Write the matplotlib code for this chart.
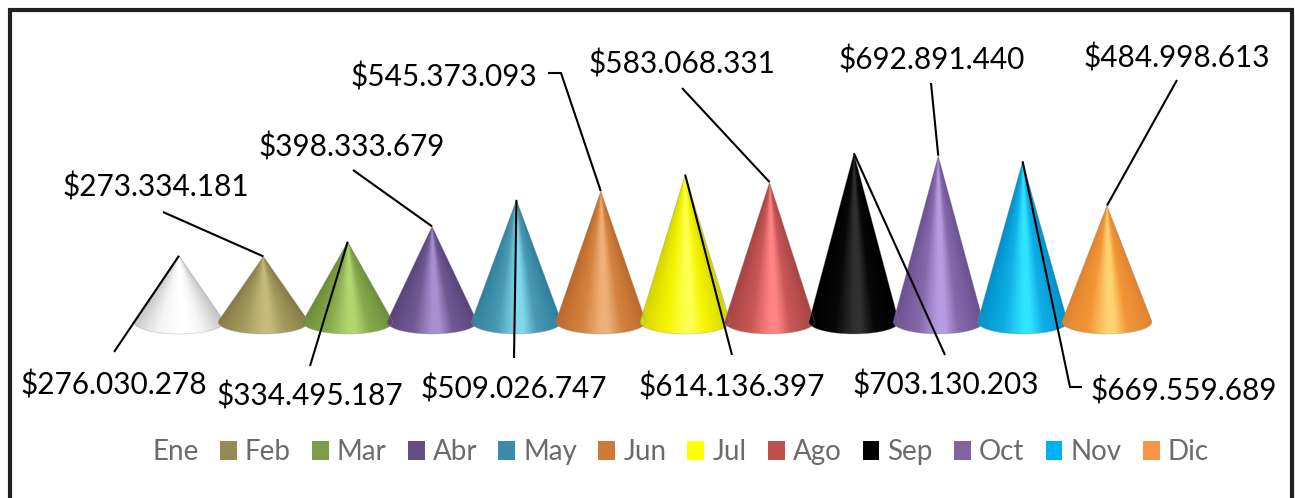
import numpy as np
import matplotlib
matplotlib.use('Agg')
import matplotlib.pyplot as plt
from matplotlib.colors import LinearSegmentedColormap
from matplotlib.lines import Line2D
from matplotlib.patches import PathPatch, Patch
from matplotlib.path import Path

plt.rcParams['font.family'] = ['Lato', 'DejaVu Sans']

months = ['Ene', 'Feb', 'Mar', 'Abr', 'May', 'Jun', 'Jul', 'Ago', 'Sep', 'Oct', 'Nov', 'Dic']
sales = [276030278, 273334181, 334495187, 398333679, 509026747, 545373093,
         614136397, 583068331, 703130203, 692891440, 669559689, 484998613]
legend_colors = ['#ffffff', '#948a54', '#7f9b48', '#664f86', '#3a8ca8', '#cc7a35',
                 '#ffff00', '#c0504d', '#000000', '#8064a2', '#00b0f0', '#f79646']
edge_colors = ['#c4c4c4', '#857b46', '#6d8d3a', '#58437a', '#30809c', '#bb692a',
               '#d4d400', '#a84444', '#000000', '#6c5192', '#0091c8', '#df8330']
mid_colors = ['#f4f4f4', '#a39a5e', '#88a94c', '#6f5a94', '#4a9ab4', '#d4833f',
              '#f4f400', '#c95757', '#080808', '#8569ab', '#10aee6', '#f39638']
light_colors = ['#ffffff', '#c4ba7c', '#b2d66e', '#a88fd0', '#80d8ec', '#eeb078',
                '#ffff50', '#ff8484', '#303030', '#b79ce2', '#30e4ff', '#ffd272']

# (label centre) and (where the leader line stops) in picture pixels
label_pos = [(114, 382), (156, 184), (310, 393), (352, 144), (514, 386), (444, 74),
             (732, 384), (682, 61), (946, 382), (932, 57), (1184, 388), (1177, 55)]
leader_end = [(114, 352), (163, 212), (310, 366), (353, 170), (514, 358), (561, 73),
              (732, 355), (682, 88), (945, 355), (931, 83), (1070, 387), (1177, 80)]
leader_knee = {5: (548, 73), 10: (1082, 387)}

W, H = 1295, 498
fig = plt.figure(figsize=(W / 100, H / 100), dpi=100)
ax = fig.add_axes([0, 0, 1, 1])

# one category = 84.36 px, first cone at x=179; 1 million = 0.24 px, floor at y=322
xlim = (-179 / 84.36, (W - 179) / 84.36)
ylim = (-(H - 322) / 0.24e-6, 322 / 0.24e-6)
ax.axis('off')

half_w = 0.533
base_h = 12 / 0.24e-6


def px(p):
    return (p[0], H - p[1])


for i, value in enumerate(sales):
    # outline: apex, tangent points on the base ellipse, lower arc
    ang0 = np.arcsin(base_h / value)
    ang = np.linspace(-ang0, np.pi + ang0, 60)
    arc_x = i + half_w * np.cos(ang)
    arc_y = -base_h * np.sin(ang)
    verts = [(i, value)] + list(zip(arc_x, arc_y)) + [(i, value)]
    cone = Path(verts, closed=True)

    cmap = LinearSegmentedColormap.from_list(
        'c%d' % i,
        [(0, edge_colors[i]), (0.3, mid_colors[i]), (0.5, light_colors[i]),
         (0.58, light_colors[i]), (0.72, mid_colors[i]), (1, edge_colors[i])])
    ys = np.linspace(-base_h, value, 260)
    xs = np.linspace(-half_w, half_w, 180)
    gx, gy = np.meshgrid(xs, ys)
    # shading follows the cone: same tone along a line to the apex
    shade = gx / (half_w * np.clip(1 - gy / value, 0.005, None))
    shade = np.clip((shade + 1) / 2, 0, 1)
    im = ax.imshow(shade, cmap=cmap, vmin=0, vmax=1, aspect='auto', origin='lower',
                   extent=[i - half_w, i + half_w, -base_h, value], zorder=2 + i * 0.01,
                   interpolation='bilinear')
    outline = PathPatch(cone, facecolor='none', edgecolor='#909090', lw=0.5, alpha=0.45,
                        zorder=2.1 + i * 0.01)
    ax.add_patch(outline)
    im.set_clip_path(outline)

ax.set_xlim(xlim)
ax.set_ylim(ylim)

# data labels with leader lines
for i, value in enumerate(sales):
    label = '$' + format(value, ',').replace(',', '.')
    lx, ly = label_pos[i]
    ax.text(*px((lx, ly + 3)), label, transform=None, fontsize=21.4, color='black',
            ha='center', va='center', zorder=5)
    tip = ax.transData.transform((i, value))
    pts = [tuple(tip), px(leader_end[i])]
    if i in leader_knee:
        pts.append(px(leader_knee[i]))
    xx, yy = zip(*pts)
    ax.plot(xx, yy, color='black', lw=1.5, transform=None, zorder=4, solid_capstyle='butt')

handles = [Patch(facecolor=c, edgecolor='none') for c in legend_colors]
leg = fig.legend(handles, months, ncol=12, loc='center', bbox_to_anchor=(668 / W, 1 - 452 / H),
                 frameon=False, fontsize=20, labelcolor='#6b6b6b', handlelength=0.61,
                 handleheight=0.65, handletextpad=0.29, columnspacing=0.76,
                 borderpad=0, borderaxespad=0)

# frame is open at the bottom of the picture
fig.add_artist(Line2D([9.5, 9.5, 1292, 1292], [0, H - 10, H - 10, 0], transform=None,
                      color='#231f20', lw=3, solid_joinstyle='miter'))

fig.savefig('out.png', dpi=100, facecolor='white')
